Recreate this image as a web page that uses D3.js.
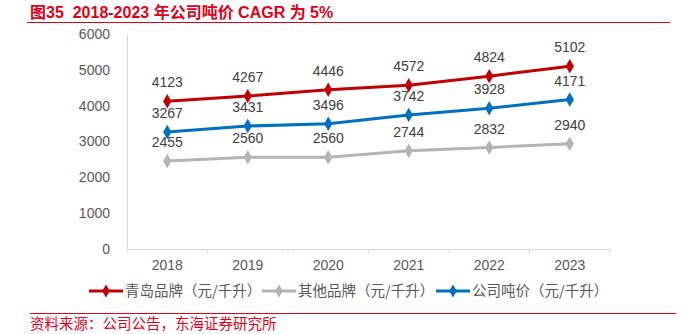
<!DOCTYPE html>
<html><head><meta charset="utf-8">
<script src="https://cdn.jsdelivr.net/npm/d3@7"></script>
<style>body{margin:0;background:#fff;}svg{display:block;font-family:"Liberation Sans",Arial,"Noto Sans CJK SC",sans-serif;}</style>
</head><body>
<svg id="c" width="690" height="334"></svg>
<script>
const years = ["2018","2019","2020","2021","2022","2023"];
const qingdao = [4123,4267,4446,4572,4824,5102];
const other = [2455,2560,2560,2744,2832,2940];
const company = [3267,3431,3496,3742,3928,4171];
const yTicks = [0,1000,2000,3000,4000,5000,6000];
const seriesNames = ["青岛品牌（元/千升）","其他品牌（元/千升）","公司吨价（元/千升）"];
const seriesColors = ["#c00000","#b4b4b4","#0070c0"];
const titleText = "图35  2018-2023 年公司吨价 CAGR 为 5%";
const sourceText = "资料来源：公司公告，东海证券研究所";

const svg = d3.select("#c");
const cjk = '"Noto Sans CJK SC", sans-serif';
const num = '"Liberation Sans",Arial';

svg.append("text").attr("x",30).attr("y",18).attr("fill","#e0001b")
  .attr("font-size",16).attr("font-weight","bold").attr("font-family",'"Liberation Sans",Arial,"Noto Sans CJK SC"')
  .style("white-space","pre").attr("xml:space","preserve")
  .text(titleText);
svg.append("line").attr("x1",27).attr("x2",670).attr("y1",22.5).attr("y2",22.5).attr("stroke","#e0001b").attr("stroke-width",1);

const x = d3.scaleBand().domain(years).range([127,610]);
const y = d3.scaleLinear().domain([0,6000]).range([249,34]);

const gy = svg.append("g").attr("transform","translate(127,0)")
  .call(d3.axisLeft(y).tickValues(yTicks).tickSize(0).tickPadding(17).tickFormat(d3.format("d")));
gy.select(".domain").attr("stroke","#d9d9d9");
gy.selectAll("text").attr("fill","#595959").attr("font-size",14).attr("font-family",num);

const gx = svg.append("g").attr("transform","translate(0,249)")
  .call(d3.axisBottom(x).tickSize(0).tickPadding(11));
gx.select(".domain").attr("stroke","#d9d9d9");
gx.selectAll("text").attr("fill","#595959").attr("font-size",14).attr("font-family",num);
gx.selectAll(".bt").data(years.concat(["end"])).enter().append("line")
  .attr("x1",(d,i)=> i<years.length ? x(d) : x.range()[1])
  .attr("x2",(d,i)=> i<years.length ? x(d) : x.range()[1])
  .attr("y1",0).attr("y2",4).attr("stroke","#d9d9d9");

const data = [qingdao, other, company];
const cx = d => x(d) + x.bandwidth()/2;
const line = d3.line().x((v,i)=>cx(years[i])).y(v=>y(v));
[1,2,0].forEach(si=>{
  const vals = data[si];
  svg.append("path").datum(vals).attr("d",line).attr("fill","none")
    .attr("stroke",seriesColors[si]).attr("stroke-width",3);
  svg.selectAll(".m"+si).data(vals).enter().append("path")
    .attr("d",d3.symbol(d3.symbolDiamond,60)())
    .attr("transform",(v,i)=>`translate(${cx(years[i])},${y(v)})`)
    .attr("fill",seriesColors[si]);
});
data.forEach((vals,si)=>{
  svg.selectAll(".l"+si).data(vals).enter().append("text")
    .attr("x",(v,i)=>cx(years[i])).attr("y",v=>y(v)-14)
    .attr("text-anchor","middle").attr("fill","#404040").attr("font-size",14)
    .attr("font-family",num).text(v=>v);
});

// legend
const legX = [89,262,436];
seriesNames.forEach((n,i)=>{
  const g = svg.append("g").attr("transform",`translate(${legX[i]},291)`);
  g.append("line").attr("x1",0).attr("x2",34).attr("stroke",seriesColors[i]).attr("stroke-width",3);
  g.append("path").attr("d",d3.symbol(d3.symbolDiamond,50)()).attr("transform","translate(17,0)").attr("fill",seriesColors[i]);
  g.append("text").attr("x",36).attr("y",5).attr("fill","#595959").attr("font-size",14.5).attr("font-family",cjk).text(n);
});

svg.append("line").attr("x1",30).attr("x2",676).attr("y1",313.5).attr("y2",313.5).attr("stroke","#e0001b").attr("stroke-width",1);
svg.append("text").attr("x",30).attr("y",328.5).attr("fill","#e0001b").attr("font-size",14.5).attr("font-family",cjk).text(sourceText);
</script>
</body></html>
